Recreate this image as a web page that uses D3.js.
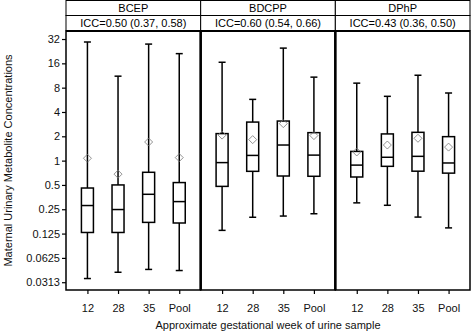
<!DOCTYPE html>
<html>
<head>
<meta charset="utf-8">
<script src="https://cdn.jsdelivr.net/npm/d3@7"></script>
<style>
  body { margin: 0; background: #fff; }
  svg { font-family: "Liberation Sans", Arial, sans-serif; }
</style>
</head>
<body>
<svg id="chart"></svg>
<script>
// chart data
const panels = ["BCEP", "BDCPP", "DPhP"];
const iccLabels = ["ICC=0.50 (0.37, 0.58)", "ICC=0.60 (0.54, 0.66)", "ICC=0.43 (0.36, 0.50)"];
const weeks = ["12", "28", "35", "Pool"];
const yTicks = [32, 16, 8, 4, 2, 1, 0.5, 0.25, 0.125, 0.0625, 0.03125];
const yTickLabels = ["32", "16", "8", "4", "2", "1", "0.5", "0.25", "0.125", "0.0625", "0.0313"];

// per panel, per week: [whiskerLow, q1, median, q3, whiskerHigh]
const bcepStats = [
  [0.0347, 0.129, 0.278, 0.458, 29.4],
  [0.0415, 0.129, 0.248, 0.50, 11.1],
  [0.045, 0.172, 0.383, 0.717, 27.7],
  [0.0436, 0.169, 0.311, 0.535, 21.1]
];
const bdcppStats = [
  [0.137, 0.48, 0.945, 2.16, 16.5],
  [0.199, 0.737, 1.16, 3.0, 5.73],
  [0.206, 0.645, 1.56, 3.09, 24.7],
  [0.22, 0.64, 1.17, 2.22, 10.8]
];
const dphpStats = [
  [0.30, 0.627, 0.88, 1.30, 9.1],
  [0.28, 0.85, 1.10, 2.14, 6.25],
  [0.20, 0.74, 1.13, 2.24, 11.4],
  [0.147, 0.70, 0.935, 1.98, 6.87]
];
// geometric? means shown as diamonds
const bcepMeans = [1.07, 0.68, 1.70, 1.09];
const bdcppMeans = [2.07, 1.82, 2.87, 2.04];
const dphpMeans = [1.28, 1.56, 1.89, 1.47];

const allStats = [bcepStats, bdcppStats, dphpStats];
const allMeans = [bcepMeans, bdcppMeans, dphpMeans];

const width = 471, height = 332;
const margin = { top: 31, right: 1, bottom: 42, left: 66 };
const stripH = 15;
const plotW = width - margin.left - margin.right;
const plotH = height - margin.top - margin.bottom;

const svg = d3.select("#chart").attr("width", width).attr("height", height);

const yScale = d3.scaleLog().base(2)
  .domain([Math.pow(2, -5.32), Math.pow(2, 5.33)])
  .range([plotH, 0]);

const panelScale = d3.scaleBand().domain(panels).range([0, plotW]).padding(0);
const xScale = d3.scalePoint().domain(weeks).range([0, panelScale.bandwidth()]).padding(0.7);

const chartArea = svg.append("g")
  .attr("transform", `translate(${margin.left},${margin.top})`);

// y axis
const yAxisG = chartArea.append("g")
  .call(d3.axisLeft(yScale).tickValues(yTicks).tickSize(4).tickSizeOuter(0)
    .tickFormat((d, i) => yTickLabels[i]));
yAxisG.select(".domain").remove();
yAxisG.selectAll("line").attr("stroke", "#000").attr("stroke-width", 1.2);
yAxisG.selectAll("text").attr("font-size", 11).attr("fill", "#111").attr("x", -6);

panels.forEach((p, pi) => {
  const x0 = panelScale(p);
  const g = chartArea.append("g").attr("transform", `translate(${x0},0)`);

  // strips
  const strips = svg.append("g").attr("transform", `translate(${margin.left + x0},0)`);
  strips.append("rect").attr("x", 0).attr("y", 0.5)
    .attr("width", panelScale.bandwidth()).attr("height", stripH)
    .attr("fill", "#fff").attr("stroke", "#000").attr("stroke-width", 1);
  strips.append("rect").attr("x", 0).attr("y", stripH + 0.5)
    .attr("width", panelScale.bandwidth()).attr("height", stripH)
    .attr("fill", "#fff").attr("stroke", "#000").attr("stroke-width", 1);
  strips.append("text").attr("x", panelScale.bandwidth() / 2).attr("y", 12)
    .attr("text-anchor", "middle").attr("font-size", 11).text(p);
  strips.append("text").attr("x", panelScale.bandwidth() / 2).attr("y", stripH + 12)
    .attr("text-anchor", "middle").attr("font-size", 11).text(iccLabels[pi]);

  // x axis
  const xAxisG = g.append("g").attr("transform", `translate(0,${plotH})`)
    .call(d3.axisBottom(xScale).tickSize(4).tickSizeOuter(0));
  xAxisG.select(".domain").remove();
  xAxisG.selectAll("line").attr("stroke", "#000").attr("stroke-width", 1.2);
  xAxisG.selectAll("text").attr("font-size", 11).attr("fill", "#111").attr("dy", "1.35em");

  const boxW = 12, capW = 7;
  const boxes = g.selectAll(".box").data(allStats[pi]).join("g")
    .attr("class", "box")
    .attr("transform", (d, i) => `translate(${xScale(weeks[i])},0)`);

  boxes.append("line")
    .attr("y1", d => yScale(d[0])).attr("y2", d => yScale(d[4]))
    .attr("stroke", "#000").attr("stroke-width", 1.5);
  boxes.append("line").attr("x1", -capW / 2).attr("x2", capW / 2)
    .attr("y1", d => yScale(d[4])).attr("y2", d => yScale(d[4]))
    .attr("stroke", "#000").attr("stroke-width", 1.5);
  boxes.append("line").attr("x1", -capW / 2).attr("x2", capW / 2)
    .attr("y1", d => yScale(d[0])).attr("y2", d => yScale(d[0]))
    .attr("stroke", "#000").attr("stroke-width", 1.5);
  boxes.append("rect")
    .attr("x", -boxW / 2).attr("width", boxW)
    .attr("y", d => yScale(d[3])).attr("height", d => yScale(d[1]) - yScale(d[3]))
    .attr("fill", "#fff").attr("stroke", "#000").attr("stroke-width", 1.5);
  boxes.append("line").attr("x1", -boxW / 2).attr("x2", boxW / 2)
    .attr("y1", d => yScale(d[2])).attr("y2", d => yScale(d[2]))
    .attr("stroke", "#000").attr("stroke-width", 1.5);

  // mean diamonds
  g.selectAll(".mean").data(allMeans[pi]).join("path")
    .attr("class", "mean")
    .attr("transform", (d, i) => `translate(${xScale(weeks[i])},${yScale(d)})`)
    .attr("d", "M0,-4L4,0L0,4L-4,0Z")
    .attr("fill", "none").attr("stroke", "#777").attr("stroke-width", 0.8);

  // panel frame
  g.append("rect").attr("x", 0).attr("y", 0)
    .attr("width", panelScale.bandwidth()).attr("height", plotH)
    .attr("fill", "none").attr("stroke", "#000").attr("stroke-width", 1.5);
});

// thicker separators between panels
panels.slice(1).forEach(p => {
  chartArea.append("line")
    .attr("x1", panelScale(p)).attr("x2", panelScale(p))
    .attr("y1", 0).attr("y2", plotH)
    .attr("stroke", "#000").attr("stroke-width", 2.5);
});
chartArea.append("line").attr("x1", 0).attr("x2", plotW).attr("y1", 0).attr("y2", 0)
  .attr("stroke", "#000").attr("stroke-width", 2);

// axis titles
svg.append("text")
  .attr("transform", "rotate(-90)")
  .attr("x", -(margin.top + plotH / 2)).attr("y", 12)
  .attr("text-anchor", "middle").attr("font-size", 11).attr("fill", "#111")
  .text("Maternal Urinary Metabolite Concentrations");

svg.append("text")
  .attr("x", margin.left + plotW / 2).attr("y", 329)
  .attr("text-anchor", "middle").attr("font-size", 11).attr("fill", "#111")
  .text("Approximate gestational week of urine sample");
</script>
</body>
</html>
